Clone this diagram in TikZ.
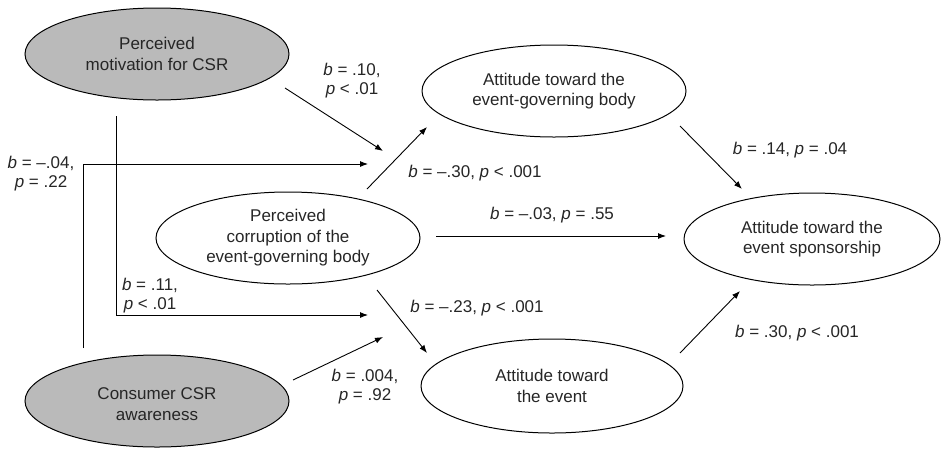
\documentclass[tikz,border=0pt]{standalone}
\usepackage{fontspec}
\setmainfont{Liberation Sans}
\usetikzlibrary{shapes.geometric,arrows.meta}
\begin{document}
\begin{tikzpicture}[x=1pt,y=-1pt,
  var/.style={ellipse,draw,line width=1pt,inner sep=0pt,align=center,text=black!85,font=\fontsize{17}{20.5}\selectfont},
  lat/.style={var,fill=black!27},
  lbl/.style={align=center,font=\fontsize{17}{19}\selectfont,inner sep=0pt,text=black!85},
  arr/.style={line width=0.9pt,-{Latex[length=8pt,width=6pt]}},
  ln/.style={line width=0.9pt}]
\useasboundingbox (0,0) rectangle (941,448);
% variables
\node[lat,minimum width=264pt,minimum height=92pt] (mot) at (157,54) {Perceived\\motivation for CSR};
\node[var,minimum width=264pt,minimum height=92pt] (cor) at (288,238) {Perceived\\corruption of the\\event-governing body};
\node[lat,minimum width=264pt,minimum height=92pt] (awa) at (157,401) {};
\node[lbl,font=\fontsize{17}{20.5}\selectfont] (awat) at (157,404) {Consumer CSR\\awareness};
\node[var,minimum width=264pt,minimum height=92pt] (gov) at (554,91) {Attitude toward the\\event-governing body};
\node[var,minimum width=262pt,minimum height=94pt] (evt) at (552,386) {Attitude toward\\the event};
\node[var,minimum width=256pt,minimum height=92pt] (spo) at (812,239) {Attitude toward the\\event sponsorship};
% connector end points
\coordinate (mot-o) at (285,88);   \coordinate (modA) at (383,151);
\coordinate (cor-ne) at (367,189); \coordinate (gov-sw) at (427,127);
\coordinate (awa-n) at (83,348);   \coordinate (awa-c) at (83,164);  \coordinate (modA2) at (368,164);
\coordinate (mot-s) at (116,116);  \coordinate (mot-c) at (116,315); \coordinate (modB2) at (368,315);
\coordinate (awa-o) at (293,380);  \coordinate (modB) at (383,337);
\coordinate (cor-se) at (377,290); \coordinate (evt-nw) at (427,353);
\coordinate (cor-e) at (436,236);  \coordinate (spo-w) at (666,236);
\coordinate (gov-se) at (680,126); \coordinate (spo-nw) at (742,189);
\coordinate (evt-ne) at (680,353); \coordinate (spo-sw) at (740,291);
% connectors
\draw[arr] (mot-o) -- (modA);
\draw[arr] (cor-ne) -- (gov-sw);
\draw[arr] (awa-n) -- (awa-c) -- (modA2);
\draw[arr] (mot-s) -- (mot-c) -- (modB2);
\draw[arr] (awa-o) -- (modB);
\draw[arr] (cor-se) -- (evt-nw);
\draw[arr] (cor-e) -- (spo-w);
\draw[arr] (gov-se) -- (spo-nw);
\draw[arr] (evt-ne) -- (spo-sw);
% labels
\node[lbl] (l1) at (352,81) {\textit{b} = .10,\\\textit{p} < .01};
\node[lbl] (l2) at (475,173) {\textit{b} = –.30, \textit{p} < .001};
\node[lbl] (l3) at (41,174) {\textit{b} = –.04,\\\textit{p} = .22};
\node[lbl] (l4) at (150,296) {\textit{b} = .11,\\\textit{p} < .01};
\node[lbl] (l5) at (365,387) {\textit{b} = .004,\\\textit{p} = .92};
\node[lbl] (l6) at (477,308) {\textit{b} = –.23, \textit{p} < .001};
\node[lbl] (l7) at (552,215) {\textit{b} = –.03, \textit{p} = .55};
\node[lbl] (l8) at (790,150) {\textit{b} = .14, \textit{p} = .04};
\node[lbl] (l9) at (797,333) {\textit{b} = .30, \textit{p} < .001};
\end{tikzpicture}
\end{document}
